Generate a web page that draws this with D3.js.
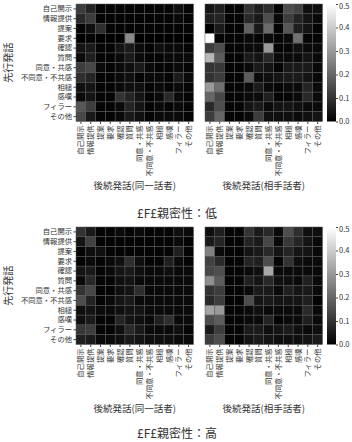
<!DOCTYPE html>
<html><head><meta charset="utf-8">
<script src="https://cdn.jsdelivr.net/npm/d3@7"></script>
<style>body{margin:0;background:#fff}svg{display:block}text{font-family:"Noto Sans CJK JP","Noto Sans",sans-serif;fill:#333}</style>
</head><body><svg id="c" width="352" height="442"></svg>
<script>
const categories = ["自己開示","情報提供","提案","要求","確認","質問","同意・共感","不同意・不共感","相槌","感嘆","フィラー","その他"];
const colorTicks = [0.0,0.1,0.2,0.3,0.4,0.5];
const panelTitles = ["£F£親密性：低","£F£親密性：高"];
const xTitles = ["後続発話(同一話者)","後続発話(相手話者)"];
const yTitle = "先行発話";

const lowSame = [
[0.12,0.07,0.01,0.01,0.01,0.01,0.01,0.01,0.01,0.01,0.03,0.01],
[0.08,0.12,0.01,0.01,0.01,0.01,0.01,0.01,0.01,0.01,0.02,0.01],
[0.01,0.03,0.09,0.01,0.01,0.01,0.01,0.01,0.01,0.01,0.01,0.01],
[0.00,0.01,0.00,0.00,0.00,0.27,0.00,0.00,0.00,0.00,0.00,0.00],
[0.04,0.05,0.01,0.01,0.04,0.05,0.02,0.01,0.03,0.02,0.02,0.01],
[0.02,0.06,0.01,0.01,0.02,0.05,0.02,0.01,0.01,0.02,0.02,0.02],
[0.12,0.14,0.02,0.01,0.02,0.03,0.05,0.02,0.01,0.01,0.02,0.01],
[0.09,0.07,0.01,0.01,0.02,0.03,0.01,0.02,0.02,0.01,0.05,0.02],
[0.03,0.04,0.01,0.01,0.02,0.03,0.03,0.01,0.02,0.01,0.02,0.01],
[0.02,0.04,0.01,0.01,0.10,0.07,0.04,0.01,0.02,0.08,0.02,0.01],
[0.17,0.12,0.01,0.01,0.02,0.07,0.04,0.01,0.02,0.01,0.02,0.01],
[0.14,0.05,0.01,0.01,0.02,0.05,0.03,0.01,0.02,0.02,0.02,0.01]];
const lowOther = [
[0.04,0.06,0.01,0.01,0.10,0.06,0.09,0.01,0.15,0.13,0.03,0.03],
[0.06,0.07,0.01,0.01,0.08,0.05,0.15,0.02,0.12,0.07,0.04,0.02],
[0.00,0.05,0.01,0.01,0.19,0.05,0.21,0.01,0.17,0.06,0.04,0.01],
[0.50,0.01,0.01,0.01,0.02,0.01,0.02,0.01,0.02,0.22,0.01,0.01],
[0.12,0.15,0.01,0.01,0.02,0.02,0.30,0.01,0.01,0.03,0.02,0.02],
[0.36,0.18,0.01,0.01,0.05,0.04,0.08,0.02,0.02,0.02,0.04,0.02],
[0.10,0.11,0.01,0.01,0.02,0.05,0.04,0.01,0.05,0.05,0.05,0.02],
[0.10,0.12,0.01,0.01,0.18,0.02,0.03,0.04,0.05,0.05,0.04,0.02],
[0.30,0.22,0.01,0.01,0.02,0.05,0.02,0.01,0.02,0.02,0.07,0.02],
[0.20,0.14,0.01,0.01,0.02,0.02,0.06,0.01,0.01,0.02,0.08,0.02],
[0.08,0.15,0.01,0.01,0.04,0.05,0.02,0.04,0.04,0.03,0.02,0.02],
[0.12,0.20,0.01,0.01,0.02,0.12,0.03,0.03,0.03,0.02,0.03,0.04]];
const highSame = [
[0.10,0.05,0.01,0.01,0.02,0.01,0.02,0.01,0.01,0.01,0.03,0.02],
[0.04,0.13,0.01,0.01,0.01,0.01,0.01,0.01,0.01,0.01,0.02,0.01],
[0.01,0.03,0.03,0.01,0.01,0.01,0.01,0.01,0.01,0.01,0.06,0.01],
[0.01,0.02,0.01,0.02,0.03,0.09,0.03,0.01,0.01,0.06,0.02,0.01],
[0.04,0.05,0.01,0.02,0.04,0.05,0.03,0.02,0.02,0.03,0.02,0.02],
[0.02,0.08,0.01,0.01,0.03,0.04,0.02,0.02,0.02,0.02,0.02,0.02],
[0.10,0.14,0.01,0.01,0.03,0.04,0.09,0.02,0.02,0.02,0.02,0.02],
[0.15,0.07,0.01,0.02,0.04,0.05,0.02,0.02,0.02,0.02,0.02,0.02],
[0.03,0.04,0.02,0.02,0.03,0.04,0.04,0.02,0.02,0.02,0.02,0.02],
[0.03,0.05,0.01,0.01,0.07,0.04,0.03,0.02,0.06,0.09,0.02,0.02],
[0.11,0.12,0.01,0.01,0.03,0.08,0.05,0.02,0.02,0.02,0.03,0.01],
[0.06,0.05,0.02,0.02,0.03,0.05,0.04,0.03,0.03,0.03,0.02,0.02]];
const highOther = [
[0.03,0.06,0.01,0.01,0.10,0.05,0.08,0.02,0.15,0.09,0.03,0.03],
[0.05,0.07,0.01,0.01,0.07,0.05,0.14,0.02,0.11,0.07,0.04,0.02],
[0.25,0.02,0.01,0.01,0.04,0.05,0.08,0.04,0.07,0.04,0.04,0.02],
[0.13,0.08,0.01,0.01,0.07,0.06,0.15,0.01,0.10,0.03,0.02,0.02],
[0.14,0.15,0.01,0.01,0.02,0.03,0.33,0.02,0.02,0.02,0.02,0.02],
[0.28,0.18,0.01,0.01,0.06,0.04,0.08,0.03,0.03,0.02,0.06,0.02],
[0.10,0.12,0.01,0.01,0.02,0.05,0.05,0.02,0.06,0.04,0.05,0.02],
[0.08,0.12,0.01,0.01,0.15,0.04,0.05,0.04,0.04,0.04,0.06,0.01],
[0.32,0.30,0.01,0.01,0.02,0.03,0.02,0.02,0.02,0.02,0.08,0.02],
[0.15,0.18,0.01,0.01,0.02,0.02,0.07,0.01,0.02,0.02,0.06,0.02],
[0.05,0.12,0.01,0.01,0.05,0.05,0.03,0.04,0.05,0.03,0.02,0.03],
[0.12,0.15,0.01,0.01,0.04,0.05,0.04,0.03,0.03,0.03,0.04,0.05]];

const panels = [
  {top:4, mats:[lowSame, lowOther], title:panelTitles[0]},
  {top:227, mats:[highSame, highOther], title:panelTitles[1]}
];
const size = 117.5;
const lefts = [76, 205];
const gray = d3.scaleLinear().domain([0,0.5]).range(["#000","#fff"]).clamp(true);

const svg = d3.select("#c");
const x = d3.scaleBand().domain(categories).range([0,size]);
const y = d3.scaleBand().domain(categories).range([0,size]);

panels.forEach((p, pi) => {
  p.mats.forEach((m, mi) => {
    const g = svg.append("g").attr("transform", `translate(${lefts[mi]},${p.top})`);
    const cells = [];
    m.forEach((row, r) => row.forEach((v, c) => cells.push({r, c, v})));
    g.selectAll("rect").data(cells).join("rect")
      .attr("x", d => x(categories[d.c])).attr("y", d => y(categories[d.r]))
      .attr("width", x.bandwidth()).attr("height", y.bandwidth())
      .attr("fill", d => gray(d.v)).attr("stroke", "#555").attr("stroke-width", 0.5);
    const xa = g.append("g").attr("transform", `translate(0,${size})`)
      .call(d3.axisBottom(x).tickSize(2.5).tickSizeOuter(0));
    xa.select(".domain").remove();
    xa.selectAll("line").attr("stroke", "#444");
    xa.selectAll("text").attr("transform", "rotate(-90)").attr("text-anchor", "end")
      .attr("x", -4).attr("y", 0).attr("dy", "0.35em").style("font-size", "7.3px");
    g.append("text").attr("x", size/2).attr("y", size + 67).attr("text-anchor", "middle")
      .style("font-size", "9.5px").text(xTitles[mi]);
    if (mi === 0) {
      const ya = g.append("g").call(d3.axisLeft(y).tickSize(2.5).tickSizeOuter(0));
      ya.select(".domain").remove();
      ya.selectAll("line").attr("stroke", "#444");
      ya.selectAll("text").style("font-size", "7.3px").attr("x", -4);
      g.append("text").attr("transform", `translate(-64,${size/2}) rotate(-90)`)
        .attr("text-anchor", "middle").style("font-size", "10px").text(yTitle);
    }
  });
  const cb = svg.append("g").attr("transform", `translate(327,${p.top})`);
  const cs = d3.scaleLinear().domain([0,0.5]).range([size,0]);
  const gid = "grad" + pi;
  const grad = svg.append("defs").append("linearGradient").attr("id", gid)
    .attr("x1",0).attr("y1",1).attr("x2",0).attr("y2",0);
  grad.append("stop").attr("offset","0%").attr("stop-color","#000");
  grad.append("stop").attr("offset","100%").attr("stop-color","#fff");
  cb.append("rect").attr("width", 9).attr("height", size).attr("fill", `url(#${gid})`);
  const ca = cb.append("g").attr("transform", "translate(9,0)")
    .call(d3.axisRight(cs).tickValues(colorTicks).tickFormat(d3.format(".1f")).tickSize(2));
  ca.select(".domain").remove();
  ca.selectAll("line").attr("stroke", "#444");
  ca.selectAll("text").style("font-size", "7.5px").attr("x", 3)
    .attr("dy", d => d === 0.5 ? "0.6em" : "0.32em");
  svg.append("text").attr("x", 177).attr("y", p.top + size + 96 - pi*3).attr("text-anchor", "middle")
    .style("font-size", "12px").text(p.title);
});
</script></body></html>
